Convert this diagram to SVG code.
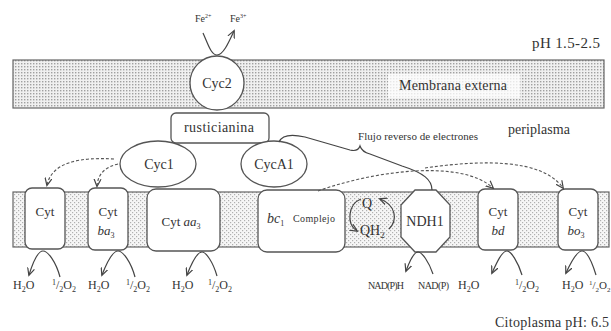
<svg xmlns="http://www.w3.org/2000/svg" width="611" height="331" viewBox="0 0 611 331">
<style>
.t{font-family:"Liberation Serif","Times New Roman",serif;fill:#333;}
.box{fill:#fff;stroke:#555;stroke-width:1.3;}
.ln{fill:none;stroke:#444;stroke-width:1.2;}
.dash{fill:none;stroke:#555;stroke-width:1.1;stroke-dasharray:3,2;}
.mem{stroke:#666;stroke-width:1.2;}
</style>
<defs>
<pattern id="pOut" width="3" height="3" patternUnits="userSpaceOnUse"><rect width="3" height="3" fill="#f0f0f0"/><rect width="1.4" height="1.4" fill="#a0a0a0"/></pattern>
<pattern id="pIn" width="4" height="4" patternUnits="userSpaceOnUse"><rect width="4" height="4" fill="#f6f6f6"/><rect width="1.2" height="1.2" fill="#b0b0b0"/><rect x="2" y="2" width="1.2" height="1.2" fill="#b0b0b0"/></pattern>
<marker id="ah" markerWidth="9" markerHeight="8" refX="7" refY="4" orient="auto" markerUnits="userSpaceOnUse"><path d="M0,0.5 L7.5,4 L0,7.5" fill="none" stroke="#444" stroke-width="1.2"/></marker>
</defs>

<g id="outer-membrane">
<rect x="13" y="60" width="591" height="48" fill="url(#pOut)" class="mem"/>
<rect x="388" y="74" width="132" height="24" fill="#fff" opacity="0.75"/>
<text class="t" x="453" y="90" font-size="14" text-anchor="middle" textLength="108">Membrana externa</text>
</g>

<g id="inner-membrane">
<rect x="13" y="192" width="596" height="55" fill="url(#pIn)" class="mem"/>
</g>

<g id="labels">
<text class="t" x="600" y="48" font-size="15" text-anchor="end" textLength="68">pH 1.5-2.5</text>
<text class="t" x="508" y="134" font-size="14" textLength="62">periplasma</text>
<text class="t" x="358" y="140" font-size="11" textLength="120">Flujo reverso de electrones</text>
<text class="t" x="609" y="327" font-size="14" text-anchor="end" textLength="114">Citoplasma pH: 6.5</text>
<text class="t" x="195" y="22" font-size="10">Fe<tspan font-size="6" dy="-4">2+</tspan></text>
<text class="t" x="230" y="22" font-size="10">Fe<tspan font-size="6" dy="-4">3+</tspan></text>
</g>

<g id="node-cyc2">
<circle cx="217" cy="83" r="27" class="box"/>
<text class="t" x="217" y="88" font-size="14" text-anchor="middle">Cyc2</text>
</g>

<g id="node-rusticianina">
<rect x="171" y="113" width="98" height="30" rx="5" class="box"/>
<text class="t" x="219" y="132" font-size="14" text-anchor="middle" textLength="70">rusticianina</text>
</g>

<g id="node-cyc1">
<ellipse cx="158" cy="164" rx="38" ry="23" class="box"/>
<text class="t" x="159" y="169" font-size="14" text-anchor="middle">Cyc1</text>
</g>

<g id="node-cyca1">
<ellipse cx="274" cy="164" rx="33" ry="23" class="box"/>
<text class="t" x="274" y="169" font-size="14" text-anchor="middle">CycA1</text>
</g>

<g id="node-cyt">
<rect x="25" y="188" width="40" height="61" rx="7" class="box"/>
<text class="t" x="45" y="216" font-size="13" text-anchor="middle">Cyt</text>
</g>

<g id="node-cyt-ba3">
<rect x="88" y="188" width="40" height="62" rx="7" class="box"/>
<text class="t" x="108" y="216" font-size="13" text-anchor="middle">Cyt</text>
<text class="t" x="106" y="235" font-size="13" text-anchor="middle" font-style="italic">ba<tspan font-size="8" dy="3" font-style="normal">3</tspan></text>
</g>

<g id="node-cyt-aa3">
<rect x="147" y="189" width="73" height="62" rx="9" class="box"/>
<text class="t" x="181" y="226" font-size="13" text-anchor="middle">Cyt <tspan font-style="italic">aa</tspan><tspan font-size="8" dy="3">3</tspan></text>
</g>

<g id="node-bc1">
<rect x="258" y="190" width="87" height="62" rx="9" class="box"/>
<text class="t" x="267" y="223" font-size="14" font-style="italic">bc<tspan font-size="8" dy="3" font-style="normal">1</tspan></text>
<text class="t" x="293" y="222" font-size="10" textLength="42">Complejo</text>
</g>

<g id="node-q">
<text class="t" x="367" y="208" font-size="14" text-anchor="middle">Q</text>
<text class="t" x="360" y="235" font-size="14">QH<tspan font-size="9" dy="3">2</tspan></text>
</g>

<g id="node-ndh1">
<polygon points="415,190 436,190 450,205 450,237 436,252 415,252 401,237 401,205" class="box"/>
<text class="t" x="425" y="226" font-size="14" text-anchor="middle">NDH1</text>
</g>

<g id="node-cyt-bd">
<rect x="478" y="189" width="40" height="61" rx="7" class="box"/>
<text class="t" x="498" y="216" font-size="13" text-anchor="middle">Cyt</text>
<text class="t" x="498" y="235" font-size="13" text-anchor="middle" font-style="italic">bd</text>
</g>

<g id="node-cyt-bo3">
<rect x="558" y="189" width="40" height="61" rx="7" class="box"/>
<text class="t" x="578" y="216" font-size="13" text-anchor="middle">Cyt</text>
<text class="t" x="576" y="235" font-size="13" text-anchor="middle" font-style="italic">bo<tspan font-size="8" dy="3" font-style="normal">3</tspan></text>
</g>

<g id="products">
<text class="t" x="13" y="289" font-size="12">H<tspan font-size="8" dy="3">2</tspan><tspan dy="-3">O</tspan></text>
<text class="t" x="52" y="289" font-size="12"><tspan font-size="8" dy="-4">1</tspan><tspan dy="4">/</tspan><tspan font-size="8" dy="3">2</tspan><tspan dy="-3">O</tspan><tspan font-size="8" dy="3">2</tspan></text>
<text class="t" x="88" y="289" font-size="12">H<tspan font-size="8" dy="3">2</tspan><tspan dy="-3">O</tspan></text>
<text class="t" x="126" y="289" font-size="12"><tspan font-size="8" dy="-4">1</tspan><tspan dy="4">/</tspan><tspan font-size="8" dy="3">2</tspan><tspan dy="-3">O</tspan><tspan font-size="8" dy="3">2</tspan></text>
<text class="t" x="172" y="289" font-size="12">H<tspan font-size="8" dy="3">2</tspan><tspan dy="-3">O</tspan></text>
<text class="t" x="208" y="289" font-size="12"><tspan font-size="8" dy="-4">1</tspan><tspan dy="4">/</tspan><tspan font-size="8" dy="3">2</tspan><tspan dy="-3">O</tspan><tspan font-size="8" dy="3">2</tspan></text>
<text class="t" x="368" y="289" font-size="10" textLength="36">NAD(P)H</text>
<text class="t" x="418" y="289" font-size="10" textLength="31">NAD(P)</text>
<text class="t" x="458" y="289" font-size="12">H<tspan font-size="8" dy="3">2</tspan><tspan dy="-3">O</tspan></text>
<text class="t" x="515" y="289" font-size="12"><tspan font-size="8" dy="-4">1</tspan><tspan dy="4">/</tspan><tspan font-size="8" dy="3">2</tspan><tspan dy="-3">O</tspan><tspan font-size="8" dy="3">2</tspan></text>
<text class="t" x="562" y="289" font-size="12">H<tspan font-size="8" dy="3">2</tspan><tspan dy="-3">O</tspan></text>
<text class="t" x="589" y="289" font-size="11"><tspan font-size="7" dy="-4">1</tspan><tspan dy="4">/</tspan><tspan font-size="7" dy="3">2</tspan><tspan dy="-3">O</tspan><tspan font-size="7" dy="3">2</tspan></text>
</g>

<g id="connectors">
<path class="ln" d="M203,33 C208,44 211,55 217,55 C223,55 228,44 234,31" marker-end="url(#ah)"/>
<path class="ln" d="M279,142 C282,135 292,134 305,137 L350,150 Q358,152 360,146 Q362,152 370,154 L402,166 C424,173 432,180 432,190"/>
<path class="dash" d="M114,159 C80,157 52,162 47,185" marker-end="url(#ah)"/>
<path class="dash" d="M118,164 C106,167 98,173 97,186" marker-end="url(#ah)"/>
<path class="dash" d="M318,191 C370,172 460,158 493,188" marker-end="url(#ah)"/>
<path class="dash" d="M425,168 C480,160 542,158 563,188" marker-end="url(#ah)"/>
<path class="ln" d="M361,199 C348,204 346,224 357,231" marker-end="url(#ah)"/>
<path class="ln" d="M389,229 C398,220 396,205 380,199" marker-end="url(#ah)"/>
<path class="ln" d="M60,277 C56,262 48,251 43,251 C38,251 33,262 29,275" marker-end="url(#ah)"/>
<path class="ln" d="M135,277 C131,262 123,251 118,251 C113,251 107,262 102,275" marker-end="url(#ah)"/>
<path class="ln" d="M217,276 C213,262 206,252 202,252 C197,252 192,262 187,275" marker-end="url(#ah)"/>
<path class="ln" d="M433,274 C429,262 422,252 418,252 C414,252 410,260 406,271" marker-end="url(#ah)"/>
<path class="ln" d="M522,275 C518,262 511,251 507,251 C502,251 497,262 492,273" marker-end="url(#ah)"/>
<path class="ln" d="M596,275 C592,262 587,251 582,251 C577,251 571,262 566,273" marker-end="url(#ah)"/>
</g>
</svg>
